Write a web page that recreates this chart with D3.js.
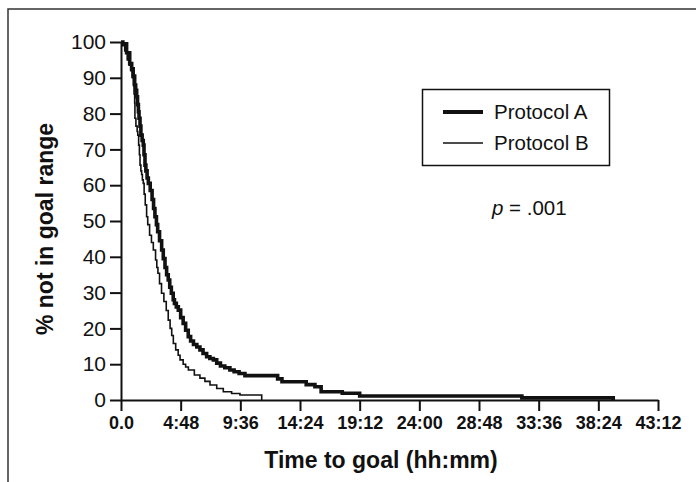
<!DOCTYPE html>
<html lang="en">
<head>
<meta charset="UTF-8">
<title>Time to goal</title>
<script src="https://d3js.org/d3.v7.min.js"></script>
<style>
  body { margin: 0; background: #fff; }
  svg text { font-family: "Liberation Sans", Arial, Helvetica, sans-serif; fill: #111; }
  .y-axis text { font-size: 21px; }
  .x-axis text { font-size: 18px; font-weight: bold; }
  .axis path, .axis line { stroke: #111; stroke-width: 2px; }
  .title { font-size: 23px; font-weight: bold; }
  .legend text { font-size: 20.5px; }
</style>
</head>
<body>
<div id="chart"></div>
<script>

// time in hours, % not yet in goal range
var hoursA = [0, 0.15, 0.45, 0.7, 0.86, 0.98, 1.1, 1.18, 1.26, 1.33, 1.4, 1.45, 1.53, 1.6, 1.7, 1.79, 1.85, 1.93, 2.0, 2.1, 2.2, 2.35, 2.5, 2.62, 2.73, 2.85, 2.95, 3.1, 3.27, 3.4, 3.54, 3.67, 3.8, 3.92, 4.05, 4.2, 4.3, 4.45, 4.61, 4.8, 5.0, 5.2, 5.41, 5.6, 5.83, 6.1, 6.35, 6.6, 6.89, 7.15, 7.43, 7.7, 8.0, 8.35, 8.76, 9.1, 9.5, 9.97, 12.6, 12.95, 14.9, 15.6, 16.1, 17.8, 19.2, 32.25, 39.6];
var pctA   = [100, 99.5, 97, 94, 92.5, 90.5, 88, 86.5, 84.7, 82.5, 80.5, 78.7, 76.5, 74, 72.5, 71.2, 68.5, 65.6, 64, 62, 60.5, 58.5, 56, 53.5, 51.2, 49, 47, 44.5, 41.9, 39.5, 37, 35, 33.5, 31.5, 29.8, 28, 27, 26, 25.1, 23, 21.4, 19.5, 17.7, 16.5, 15.5, 14.8, 14, 13, 12.1, 11.6, 11.2, 10.3, 9.5, 9, 8.4, 7.9, 7.4, 6.8, 5.9, 5.1, 4.3, 3.7, 2.3, 1.9, 1.1, 0.6, 0];

var hoursB = [0, 0.1, 0.3, 0.5, 0.65, 0.78, 0.9, 0.99, 1.05, 1.1, 1.12, 1.2, 1.3, 1.35, 1.42, 1.48, 1.53, 1.6, 1.66, 1.72, 1.79, 1.86, 1.95, 2.06, 2.15, 2.3, 2.45, 2.6, 2.78, 2.88, 2.97, 3.1, 3.26, 3.45, 3.64, 3.8, 3.95, 4.08, 4.21, 4.4, 4.6, 4.75, 5.0, 5.2, 5.42, 5.9, 6.35, 6.75, 7.16, 7.7, 8.23, 8.9, 9.57, 11.32];
var pctB   = [100, 99, 97.5, 95, 93.5, 92, 90, 88, 85.5, 83, 78.7, 76.5, 75, 74, 71.2, 68.5, 65.6, 64, 63, 61.5, 60.5, 57.5, 54.5, 51.2, 49, 46, 44, 41.9, 39.1, 37, 35.4, 32.5, 29.8, 27.5, 25, 22.3, 20, 18, 15.8, 14, 12.5, 11.2, 10, 9.2, 8.4, 7, 6.1, 5.2, 4.2, 3.2, 2.3, 1.8, 1.4, 0];

var seriesNames = ["Protocol A", "Protocol B"];

var yTicks = [0, 10, 20, 30, 40, 50, 60, 70, 80, 90, 100];
var xTickHours = [0, 4.8, 9.6, 14.4, 19.2, 24, 28.8, 33.6, 38.4, 43.2];
var xTickLabels = ["0.0", "4:48", "9:36", "14:24", "19:12", "24:00", "28:48", "33:36", "38:24", "43:12"];

var width = 696, height = 482;

var svg = d3.select("#chart").append("svg")
    .attr("width", width)
    .attr("height", height);

// frame (only top and left edges visible in the crop)
svg.append("path")
    .attr("d", "M8,482 L8,9 L696,9")
    .attr("fill", "none")
    .attr("stroke", "#333")
    .attr("stroke-width", 1.5);

var x = d3.scaleLinear().domain([0, 43.2]).range([121, 658]);
var y = d3.scaleLinear().domain([0, 100]).range([400, 42]);

svg.append("g")
    .attr("class", "axis y-axis")
    .attr("transform", "translate(121,0)")
    .call(d3.axisLeft(y).tickValues(yTicks).tickSize(11).tickSizeOuter(0).tickPadding(4));

svg.append("g")
    .attr("class", "axis x-axis")
    .attr("transform", "translate(0,400)")
    .call(d3.axisBottom(x)
        .tickValues(xTickHours)
        .tickFormat(function(d, i){ return xTickLabels[i]; })
        .tickSize(11).tickSizeOuter(0).tickPadding(5));

var line = d3.line()
    .x(function(d){ return x(d[0]); })
    .y(function(d){ return y(d[1]); })
    .curve(d3.curveStepAfter);

var dataA = hoursA.map(function(h, i){ return [h, pctA[i]]; });
var dataB = hoursB.map(function(h, i){ return [h, pctB[i]]; });

svg.append("path")
    .datum(dataB)
    .attr("d", line)
    .attr("fill", "none")
    .attr("stroke", "#111")
    .attr("stroke-width", 1.6);

svg.append("path")
    .datum(dataA)
    .attr("d", line)
    .attr("fill", "none")
    .attr("stroke", "#111")
    .attr("stroke-width", 3.6);

// axis titles
svg.append("text")
    .attr("class", "title")
    .attr("x", 381)
    .attr("y", 468)
    .attr("text-anchor", "middle")
    .text("Time to goal (hh:mm)");

svg.append("text")
    .attr("class", "title")
    .attr("transform", "rotate(-90)")
    .attr("x", -229)
    .attr("y", 53)
    .attr("text-anchor", "middle")
    .text("% not in goal range");

// legend
var legend = svg.append("g").attr("class", "legend");

legend.append("rect")
    .attr("x", 422.5)
    .attr("y", 89.5)
    .attr("width", 187)
    .attr("height", 76)
    .attr("fill", "none")
    .attr("stroke", "#111")
    .attr("stroke-width", 1.5);

var item = legend.selectAll(".item")
    .data(seriesNames)
    .enter().append("g")
    .attr("class", "item")
    .attr("transform", function(d, i){ return "translate(0," + (112 + i * 31) + ")"; });

item.append("line")
    .attr("x1", 443).attr("x2", 483)
    .attr("stroke", "#111")
    .attr("stroke-width", function(d, i){ return i === 0 ? 4 : 1.5; });

item.append("text")
    .attr("x", 494)
    .attr("y", 7)
    .text(function(d){ return d; });

var ptext = svg.append("text")
    .attr("x", 492)
    .attr("y", 215)
    .attr("font-size", "20.5px");
ptext.append("tspan").attr("font-style", "italic").text("p");
ptext.append("tspan").text(" = .001");

</script>
</body>
</html>
